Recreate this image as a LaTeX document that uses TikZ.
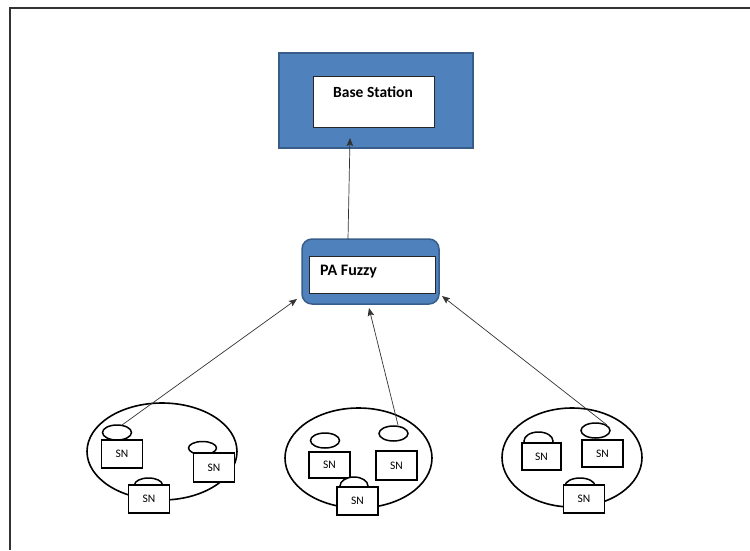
\documentclass[tikz,border=0pt]{standalone}
\usepackage{fontspec}
\setmainfont{Carlito}
\usetikzlibrary{arrows.meta,shapes.geometric}
\definecolor{obl}{HTML}{4F81BD}
\definecolor{obd}{HTML}{385D8A}
\tikzset{
  frame/.style={draw=black!80,line width=1.5pt},
  bsouter/.style={draw=obd,fill=obl,line width=1.5pt,minimum width=194pt,minimum height=95pt,inner sep=0pt},
  paouter/.style={draw=obd,fill=obl,line width=1.5pt,rounded corners=10pt,minimum width=137pt,minimum height=65pt,inner sep=0pt},
  inbox/.style={draw=black!85,fill=white,line width=0.8pt,inner sep=0pt},
  cluster/.style={ellipse,draw=black,line width=1.6pt,inner sep=0pt},
  snlid/.style={ellipse,draw=black,fill=white,line width=1.5pt,minimum width=29pt,minimum height=15pt,inner sep=0pt},
  snbox/.style={draw=black,fill=white,line width=1.6pt,minimum width=41pt,minimum height=28pt,inner sep=0pt,font=\fontsize{11.5}{13}\selectfont},
  conn/.style={draw=black!80,line width=0.7pt,-{Stealth[length=8pt,width=6.5pt,inset=1.5pt]}},
  lbl/.style={font=\fontsize{16}{18}\selectfont\bfseries,inner sep=0pt}
}
\begin{document}
\begin{tikzpicture}[x=1pt,y=-1pt]
\useasboundingbox (0,0) rectangle (750,550);
% frame
\coordinate (ftl) at (10,8);
\coordinate (ftr) at (750,8);
\coordinate (fbl) at (10,550);
\draw[frame] (ftr) -- (ftl) -- (fbl);
% base station
\node[bsouter] (bs) at (376,100.5) {};
\node[inbox,minimum width=121pt,minimum height=51pt] (bsin) at (373.5,101.5) {};
\node[lbl,font=\fontsize{15.5}{17}\selectfont\bfseries] (bstxt) at (373,92) {Base Station};
% PA fuzzy
\node[paouter] (pa) at (370.5,271.5) {};
\node[inbox,minimum width=126pt,minimum height=37pt] (pain) at (372,274.5) {};
\node[lbl,anchor=west] (patxt) at (320,272) {PA Fuzzy};
\coordinate (bsarr) at (350,138);
\coordinate (pafrom) at (348,239);
\draw[conn] (pafrom) -- (bsarr);
% cluster 1
\node[cluster,minimum width=150pt,minimum height=97pt] (c1) at (162,451.5) {};
\node[snlid] (c1e1) at (117,432.5) {};
\node[snbox] (c1s1) at (122,454) {SN};
\node[snlid,minimum width=28pt,minimum height=13pt] (c1e2) at (202.5,448) {};
\node[snbox,minimum height=29pt] (c1s2) at (214,467.5) {SN};
\node[snlid,minimum width=28pt,minimum height=14pt] (c1e3) at (148.5,485) {};
\node[snbox] (c1s3) at (149,499) {SN};
% cluster 2
\node[cluster,minimum width=147pt,minimum height=100pt] (c2) at (358.5,458) {};
\node[snlid,minimum height=15pt] (c2e1) at (325,440.5) {};
\node[snbox,minimum height=26pt] (c2s1) at (329.5,465) {SN};
\node[snlid,minimum height=15pt] (c2e2) at (393.5,433.5) {};
\node[snbox,minimum height=29pt] (c2s2) at (396.5,465.5) {SN};
\node[snlid,minimum width=28pt,minimum height=18pt] (c2e3) at (354,486) {};
\node[snbox] (c2s3) at (357.5,501) {SN};
% cluster 3
\node[cluster,minimum width=140pt,minimum height=99pt] (c3) at (572,457.5) {};
\node[snlid,minimum width=29pt,minimum height=18pt] (c3e1) at (538.5,441) {};
\node[snbox,minimum width=39pt,minimum height=27pt] (c3s1) at (541.5,456.5) {SN};
\node[snlid,minimum height=15pt] (c3e2) at (595.5,430.5) {};
\node[snbox,minimum height=27pt] (c3s2) at (602.5,453.5) {SN};
\node[snlid,minimum width=30pt,minimum height=16pt] (c3e3) at (580,486) {};
\node[snbox] (c3s3) at (584,499) {SN};
% connectors to PA fuzzy
\coordinate (a1) at (297,299);
\coordinate (a2) at (369,308);
\coordinate (a3) at (442,296);
\coordinate (f1) at (122,425);
\coordinate (f2) at (398,425);
\coordinate (f3) at (607,425);
\draw[conn] (f1) -- (a1);
\draw[conn] (f2) -- (a2);
\draw[conn] (f3) -- (a3);
\end{tikzpicture}
\end{document}
